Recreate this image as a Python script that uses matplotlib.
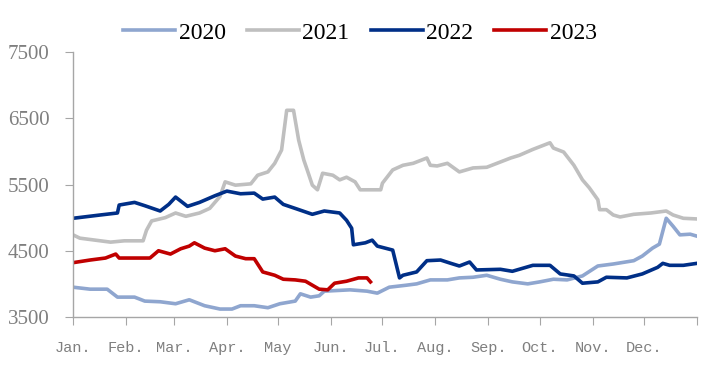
import matplotlib
matplotlib.use("Agg")
import matplotlib.pyplot as plt

# day of year -> price
day_2020 = [0, 10, 20, 23, 26, 36, 42, 51, 60, 68, 77, 86, 93, 98, 106, 114, 121, 130, 133,
            139, 144, 147, 162, 172, 178, 185, 195, 201, 209, 219, 226, 234, 242, 250, 257,
            266, 273, 281, 289, 298, 307, 316, 328, 333, 339, 343, 347, 351, 355, 361, 365]
val_2020 = [3950, 3920, 3920, 3860, 3800, 3800, 3740, 3730, 3700, 3760, 3670, 3620, 3620, 3670,
            3670, 3640, 3700, 3740, 3850, 3800, 3820, 3890, 3910, 3890, 3860, 3950, 3980, 4000,
            4060, 4060, 4090, 4100, 4130, 4070, 4030, 4000, 4030, 4070, 4060, 4120, 4270, 4300,
            4350, 4420, 4540, 4600, 4990, 4870, 4740, 4750, 4720]

day_2021 = [0, 4, 16, 22, 30, 41, 43, 46, 54, 60, 66, 74, 80, 86, 89, 95, 104, 108, 114, 118,
            122, 125, 129, 132, 135, 137, 140, 143, 146, 152, 156, 160, 165, 168, 180, 181, 187,
            193, 199, 201, 207, 209, 213, 219, 226, 234, 242, 248, 256, 261, 269, 279, 281, 287,
            293, 298, 302, 307, 308, 312, 316, 320, 328, 338, 347, 351, 357, 365]
val_2021 = [4740, 4690, 4650, 4630, 4650, 4650, 4810, 4950, 5000, 5070, 5020, 5070, 5140, 5320,
            5540, 5490, 5510, 5640, 5690, 5820, 6020, 6620, 6620, 6170, 5870, 5720, 5490, 5420,
            5670, 5640, 5570, 5610, 5540, 5420, 5420, 5520, 5720, 5790, 5820, 5840, 5900, 5790,
            5780, 5820, 5690, 5750, 5760, 5820, 5900, 5940, 6030, 6130, 6050, 5990, 5790, 5570,
            5450, 5270, 5120, 5120, 5040, 5010, 5050, 5070, 5100, 5040, 4990, 4980]

day_2022 = [0, 16, 26, 27, 36, 42, 51, 56, 60, 67, 74, 83, 90, 98, 106, 111, 118, 123, 131,
            140, 147, 156, 160, 163, 164, 171, 175, 178, 187, 191, 193, 201, 207, 215, 221, 226,
            232, 236, 250, 257, 269, 279, 285, 293, 298, 307, 312, 324, 333, 342, 345, 349, 357,
            365]
val_2022 = [4990, 5040, 5070, 5190, 5230, 5180, 5100, 5200, 5310, 5170, 5230, 5330, 5400, 5360,
            5370, 5280, 5310, 5200, 5130, 5050, 5100, 5070, 4960, 4840, 4590, 4620, 4660, 4570,
            4510, 4090, 4130, 4180, 4350, 4360, 4310, 4270, 4330, 4210, 4220, 4190, 4280, 4280,
            4150, 4120, 4010, 4030, 4100, 4090, 4150, 4250, 4310, 4280, 4280, 4310]

day_2023 = [0, 10, 19, 25, 27, 45, 50, 57, 63, 68, 71, 77, 83, 89, 95, 101, 106, 111, 118, 123,
            130, 136, 140, 144, 149, 153, 160, 167, 172, 174]
val_2023 = [4320, 4360, 4390, 4450, 4390, 4390, 4500, 4450, 4530, 4570, 4620, 4540, 4500, 4530,
            4420, 4380, 4380, 4180, 4130, 4070, 4060, 4040, 3980, 3920, 3910, 4010, 4040, 4090,
            4090, 4030]

month_starts = [0, 31, 59, 90, 120, 151, 181, 212, 243, 273, 304, 334, 365]
month_labels = ["Jan.", "Feb.", "Mar.", "Apr.", "May", "Jun.", "Jul.", "Aug.", "Sep.", "Oct.",
                "Nov.", "Dec.", ""]
y_ticks = [3500, 4500, 5500, 6500, 7500]

serif = ["Liberation Serif", "DejaVu Serif"]
grey = "#7F7F7F"
spine = "#A6A6A6"

fig = plt.figure(figsize=(7.07, 3.70), dpi=100)
ax = fig.add_axes([73 / 707, 1 - 317 / 370, 624 / 707, 265 / 370])

ax.plot(day_2020, val_2020, color="#8FA6CF", lw=2.6, label="2020")
ax.plot(day_2021, val_2021, color="#BFBFBF", lw=2.6, label="2021")
ax.plot(day_2022, val_2022, color="#002F87", lw=2.6, label="2022")
ax.plot(day_2023, val_2023, color="#C00000", lw=2.6, label="2023")

ax.set_xlim(0, 365)
ax.set_ylim(3500, 7500)
ax.set_xticks(month_starts)
ax.set_xticklabels(month_labels, family=["Liberation Mono", "DejaVu Sans Mono"],
                   fontsize=11, color=grey)
ax.set_yticks(y_ticks)
ax.set_yticklabels([str(v) for v in y_ticks], family=serif, fontsize=15, color=grey)

for s in ["top", "right"]:
    ax.spines[s].set_visible(False)
for s in ["left", "bottom"]:
    ax.spines[s].set_color(spine)
    ax.spines[s].set_linewidth(1)
ax.tick_params(axis="x", length=6, color=spine, pad=11)
ax.tick_params(axis="y", length=6, color=spine, pad=11)

fig.legend(loc="center", bbox_to_anchor=(360 / 707, 1 - 33 / 370), ncol=4, frameon=False,
           prop={"family": serif, "size": 17}, handlelength=2.2, handletextpad=0.15,
           columnspacing=0.9)

fig.savefig("out.png", dpi=100)
